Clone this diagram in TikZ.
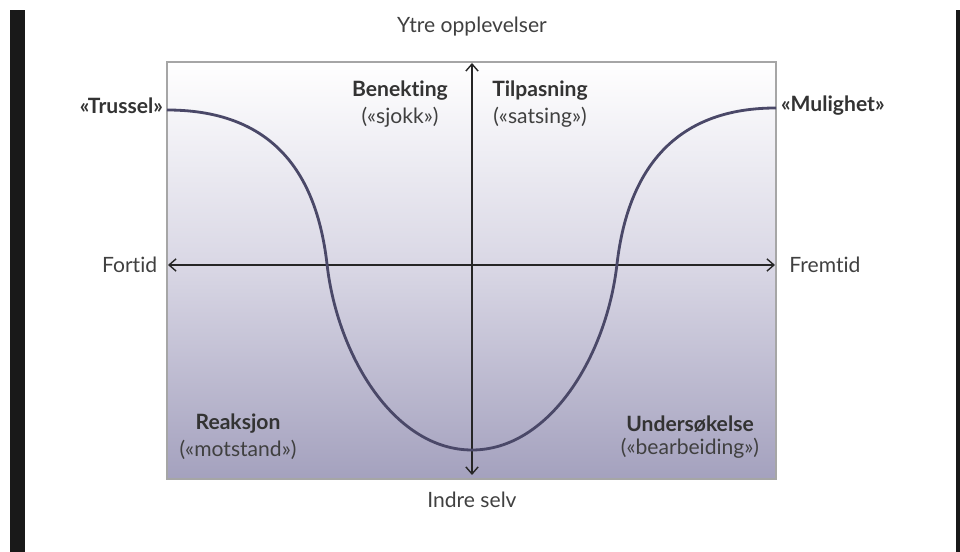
\documentclass[tikz,border=0pt]{standalone}
\usepackage{fontspec}
\setmainfont{Lato}[Ligatures=NoCommon]
\usetikzlibrary{arrows.meta,positioning}
\definecolor{lavbot}{HTML}{A4A1BE}
\definecolor{lavmid}{HTML}{D8D6E4}
\definecolor{curvecol}{HTML}{4A4868}
\definecolor{txtgray}{HTML}{404040}
\begin{document}
\begin{tikzpicture}[x=1cm,y=1cm,
  axis/.style={line width=0.8pt,draw=black!85,{Straight Barb[length=4pt,width=7pt]}-{Straight Barb[length=4pt,width=7pt]}},
  lbl/.style={text=txtgray,font=\fontsize{12}{14}\selectfont,inner sep=1pt},
  head/.style={lbl,font=\fontsize{12}{14}\selectfont\bfseries,text=black!80}]
  \useasboundingbox (0,0) rectangle (19.2,11.04);
  % frame of the screenshot
  \fill[black!90] (0.2,0) rectangle (0.5,10.84);
  \fill[black!90] (19.12,0) rectangle (19.2,10.84);
  % box with shading
  \shade[top color=white,bottom color=lavbot,middle color=lavmid] (3.34,1.46) rectangle (15.52,9.8);
  \draw[black!35,line width=0.6pt] (3.34,1.46) rectangle (15.52,9.8);
  % axes
  \coordinate (past) at (3.36,5.74);
  \coordinate (future) at (15.5,5.74);
  \coordinate (inner) at (9.44,1.54);
  \coordinate (outer) at (9.44,9.78);
  \draw[axis] (past) -- (future);
  \draw[axis] (inner) -- (outer);
  % change curve
  \draw[curvecol,line width=1.6pt]
    (3.34,8.84) .. controls (5.6,8.84) and (6.35,7.4) .. (6.54,5.76)
    .. controls (6.75,3.9) and (7.9,2.04) .. (9.44,2.04)
    .. controls (10.98,2.04) and (12.13,3.9) .. (12.34,5.76)
    .. controls (12.53,7.4) and (13.3,8.88) .. (15.52,8.88);
  % axis labels
  \node[lbl,left=5pt of past] (fortid) {Fortid};
  \node[lbl,right=7pt of future] (fremtid) {Fremtid};
  \node[lbl] (ytre) at (9.44,10.5) {Ytre opplevelser};
  \node[lbl] (indre) at (9.44,1.04) {Indre selv};
  \node[head,anchor=east] (trussel) at (3.3,8.92) {«Trussel»};
  \node[head,anchor=west] (mulighet) at (15.58,8.92) {«Mulighet»};
  % phases
  \node[head] (benekting) at (8.0,9.22) {Benekting};
  \node[lbl,below=1pt of benekting] (sjokk) {(«sjokk»)};
  \node[head] (tilpasning) at (10.8,9.22) {Tilpasning};
  \node[lbl,below=1pt of tilpasning] (satsing) {(«satsing»)};
  \node[head] (reaksjon) at (4.76,2.56) {Reaksjon};
  \node[lbl,below=1pt of reaksjon] (motstand) {(«motstand»)};
  \node[head] (undersokelse) at (13.8,2.56) {Undersøkelse};
  \node[lbl,below=1pt of undersokelse] (bearbeiding) {(«bearbeiding»)};
\end{tikzpicture}
\end{document}
